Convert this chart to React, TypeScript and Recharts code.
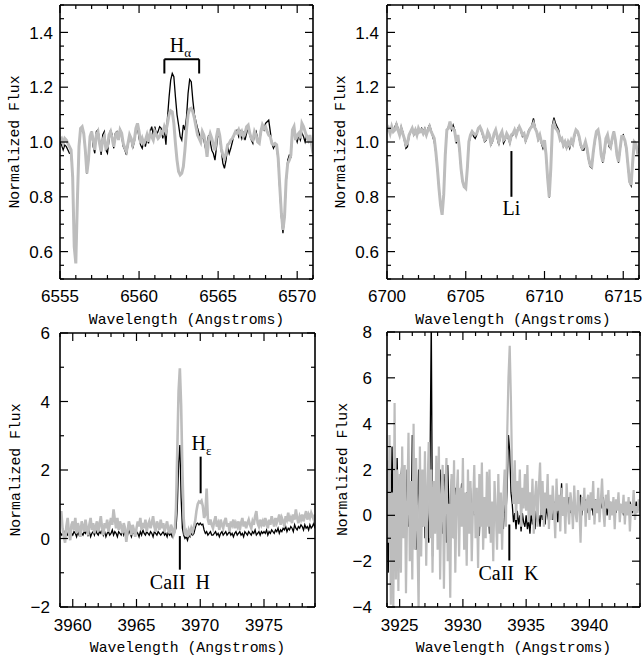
import React from 'react';
import { LineChart, Line, XAxis, YAxis, ReferenceLine, ReferenceDot } from 'recharts';

// every spectrum is sampled on a 0.1 Angstrom grid from its start wavelength
const SAMPLE_STEP = 0.1;

// ---- H-alpha window ----
const haStart = 6555.0;
const haBlack = [
  1.001, 0.989, 0.971, 0.989, 0.983, 0.971, 0.959, 0.959, 0.87, 0.62,
  0.56, 0.79, 0.98, 1.045, 1.044, 1.03, 0.97, 0.885, 0.935, 1.015,
  1.038, 0.983, 0.959, 1.038, 1.044, 1.007, 0.953, 1.026, 1.038, 0.971,
  0.959, 1.007, 1.044, 1.026, 0.977, 1.032, 1.038, 1.013, 1.05, 1.02,
  0.983, 0.971, 0.953, 0.989, 1.02, 1.007, 0.977, 1.001, 1.038, 1.056,
  1.013, 0.989, 0.977, 1.001, 0.983, 1.013, 0.995, 1.038, 1.056, 1.026,
  1.056, 1.026, 1.038, 1.056, 1.05, 1.013, 1.044, 0.99, 1.09, 1.165,
  1.226, 1.25, 1.238, 1.165, 1.10, 1.062, 1.02, 1.007, 1.062, 1.044,
  1.09, 1.178, 1.228, 1.22, 1.153, 1.10, 1.074, 1.05, 1.03, 1.007,
  1.02, 1.007, 0.977, 0.995, 1.025, 1.0, 0.97, 0.958, 0.934, 0.983,
  1.038, 1.013, 0.97, 0.922, 0.904, 0.934, 0.983, 0.958, 0.977, 1.0,
  1.025, 1.038, 1.044, 1.02, 1.038, 1.013, 1.032, 1.007, 1.032, 1.056,
  1.025, 1.007, 0.995, 1.025, 1.038, 1.013, 0.995, 1.032, 1.056, 1.044,
  1.068, 1.074, 1.08, 1.038, 0.995, 0.977, 0.99, 0.983, 0.934, 0.825,
  0.728, 0.667, 0.728, 0.85, 0.934, 0.952, 0.946, 1.038, 1.05, 1.02,
  1.0, 1.025, 1.007, 1.032, 1.02, 1.0, 1.025, 1.013, 1.02, 0.99, 0.97,
];
const haGray = [
  1.007, 1.013, 0.995, 1.013, 1.007, 0.995, 0.983, 0.971, 0.874, 0.618,
  0.557, 0.788, 0.983, 1.05, 1.056, 1.032, 0.971, 0.886, 0.934, 1.02,
  1.038, 1.007, 0.971, 1.026, 1.038, 0.995, 0.965, 1.007, 1.02, 0.977,
  0.983, 1.026, 1.038, 1.013, 0.983, 1.02, 1.038, 1.007, 1.044, 1.032,
  0.995, 0.977, 0.965, 0.995, 1.026, 1.013, 0.989, 1.007, 1.05, 1.068,
  1.038, 0.995, 1.013, 0.995, 1.007, 1.026, 1.001, 1.032, 1.02, 1.007,
  1.038, 1.026, 1.013, 1.02, 1.038, 1.032, 1.056, 1.04, 1.068, 1.10,
  1.114, 1.11, 1.068, 0.995, 0.934, 0.892, 0.88, 0.886, 0.91, 0.97,
  1.044, 1.10, 1.12, 1.123, 1.11, 1.087, 1.056, 1.025, 1.013, 1.0,
  1.038, 1.025, 0.995, 0.946, 1.007, 1.03, 1.013, 0.99, 0.97, 1.02,
  1.05, 1.025, 0.977, 0.952, 0.94, 0.958, 0.99, 0.995, 1.007, 1.013,
  1.025, 1.038, 1.032, 1.044, 1.025, 1.038, 1.02, 1.032, 1.056, 1.062,
  1.032, 1.013, 1.007, 1.038, 1.025, 1.0, 0.995, 1.038, 1.062, 1.05,
  1.056, 1.038, 1.025, 1.02, 0.995, 0.99, 0.995, 0.99, 0.94, 0.837,
  0.74, 0.679, 0.728, 0.861, 0.922, 0.934, 0.952, 1.044, 1.056, 1.007,
  1.025, 1.032, 1.013, 1.068, 1.056, 1.038, 1.02, 1.007, 1.025, 0.995, 0.958,
];

// ---- Li 6708 window ----
const liStart = 6700.0;
const liBlack = [
  1.044, 1.05, 1.038, 1.056, 1.044, 1.056, 1.068, 1.05, 1.031, 1.056,
  1.038, 1.007, 0.977, 0.983, 1.02, 1.038, 1.05, 1.026, 1.044, 1.02,
  1.044, 1.038, 1.05, 1.038, 1.05, 1.031, 1.05, 1.062, 1.044, 1.02,
  1.001, 0.96, 0.9, 0.83, 0.77, 0.736, 0.81, 0.95, 1.04, 1.056,
  1.068, 1.044, 1.062, 1.044, 0.995, 1.02, 0.97, 0.9, 0.855, 0.835,
  0.833, 0.9, 0.995, 1.02, 1.038, 1.02, 1.013, 1.026, 1.05, 1.056,
  1.038, 1.02, 1.001, 1.007, 1.038, 1.02, 0.989, 1.001, 1.026, 1.044,
  1.013, 0.989, 1.02, 1.038, 0.995, 1.007, 1.026, 1.013, 0.995, 1.02,
  1.026, 1.044, 1.02, 1.05, 1.056, 1.038, 1.02, 1.026, 1.001, 1.02,
  1.044, 1.05, 1.062, 1.086, 1.056, 1.038, 1.007, 1.02, 0.995, 0.977,
  1.001, 0.95, 0.865, 0.798, 0.9, 1.062, 1.089, 1.068, 1.056, 1.044,
  1.007, 1.007, 0.983, 0.995, 0.977, 0.995, 0.977, 1.001, 0.989, 1.02,
  1.038, 1.038, 1.013, 0.983, 0.97, 0.97, 0.995, 0.97, 0.935, 0.91,
  0.905, 0.96, 1.001, 1.038, 1.044, 1.007, 0.95, 0.925, 0.955, 1.007,
  1.02, 0.983, 0.977, 1.007, 1.038, 1.0, 0.95, 0.925, 0.97, 1.02,
  1.026, 1.001, 0.97, 0.91, 0.852, 0.84, 0.925, 0.995, 0.985, 0.96, 0.97,
];
const liGray = [
  1.038, 1.05, 1.031, 1.056, 1.038, 1.044, 1.062, 1.044, 1.026, 1.05,
  1.031, 1.013, 0.989, 0.995, 1.026, 1.038, 1.05, 1.031, 1.044, 1.026,
  1.05, 1.038, 1.044, 1.031, 1.044, 1.026, 1.044, 1.056, 1.038, 1.026,
  1.013, 0.965, 0.904, 0.831, 0.77, 0.734, 0.807, 0.953, 1.044, 1.05,
  1.074, 1.05, 1.05, 1.038, 1.001, 1.026, 0.977, 0.904, 0.856, 0.837,
  0.831, 0.904, 1.001, 1.026, 1.038, 1.031, 1.026, 1.031, 1.05, 1.056,
  1.044, 1.026, 1.007, 1.013, 1.038, 1.026, 0.995, 1.007, 1.031, 1.044,
  1.02, 1.001, 1.026, 1.038, 1.007, 1.013, 1.031, 1.02, 1.001, 1.026,
  1.031, 1.044, 1.026, 1.044, 1.056, 1.044, 1.026, 1.031, 1.007, 1.02,
  1.038, 1.05, 1.056, 1.068, 1.05, 1.038, 1.013, 1.026, 1.001, 0.989,
  1.007, 0.953, 0.867, 0.8, 0.904, 1.05, 1.068, 1.05, 1.044, 1.031,
  1.007, 1.013, 0.989, 1.001, 0.983, 1.001, 0.989, 1.007, 0.995, 1.026,
  1.044, 1.038, 1.02, 0.989, 0.977, 0.983, 1.001, 0.977, 0.94, 0.916,
  0.91, 0.965, 1.007, 1.038, 1.044, 1.013, 0.953, 0.928, 0.965, 1.013,
  1.026, 0.995, 0.983, 1.013, 1.038, 1.007, 0.953, 0.928, 0.977, 1.02,
  1.02, 1.007, 0.977, 0.916, 0.856, 0.843, 0.928, 1.001, 0.995, 0.965, 0.977,
];

// ---- Ca II H window ----
const caHStart = 3959.0;
const caHBlack = [
  0.2, 0.1, 0.15, 0.05, 0.2, 0.15, 0.1, 0.25, 0.05, 0.15,
  0.1, 0.2, 0.15, 0.05, 0.2, 0.1, 0.25, 0.15, 0.1, 0.2,
  0.15, 0.25, 0.1, 0.2, 0.05, 0.15, 0.2, 0.1, 0.25, 0.15,
  0.1, 0.2, 0.15, 0.3, 0.1, 0.2, 0.05, 0.15, 0.2, 0.1,
  0.15, 0.25, 0.1, 0.2, 0.15, 0.05, 0.2, 0.15, 0.1, 0.25,
  0.1, 0.2, 0.15, 0.1, 0.25, 0.15, 0.05, 0.2, 0.15, 0.1,
  0.2, 0.15, 0.05, 0.2, 0.1, 0.25, 0.15, 0.1, 0.2, 0.15,
  0.1, 0.2, 0.15, 0.05, 0.2, 0.15, 0.1, 0.2, 0.15, 0.1,
  0.15, 0.2, 0.1, 0.15, 0.05, 0.2, 0.1, 0.15, 0.05, 0.15,
  0.2, 0.3, 0.9, 2.2, 2.73, 1.2, 0.3, 0.1, 0.0, 0.05,
  -0.05, 0.1, 0.05, 0.15, 0.1, 0.15, 0.3, 0.42, 0.45, 0.4,
  0.45, 0.4, 0.42, 0.25, 0.15, 0.2, 0.1, 0.15, 0.2, 0.1,
  0.1, 0.15, 0.2, 0.1, 0.15, 0.05, 0.15, 0.2, 0.1, 0.15,
  0.2, 0.1, 0.15, 0.2, 0.1, 0.15, 0.05, 0.15, 0.2, 0.1,
  0.15, 0.2, 0.1, 0.15, 0.05, 0.2, 0.15, 0.1, 0.2, 0.15,
  0.1, 0.2, 0.15, 0.25, 0.1, 0.15, 0.2, 0.1, 0.2, 0.15,
  0.2, 0.15, 0.25, 0.1, 0.2, 0.15, 0.25, 0.2, 0.15, 0.25,
  0.2, 0.3, 0.15, 0.25, 0.2, 0.3, 0.25, 0.35, 0.2, 0.3,
  0.25, 0.35, 0.3, 0.2, 0.4, 0.3, 0.25, 0.35, 0.3, 0.4,
  0.35, 0.25, 0.4, 0.3, 0.35, 0.25, 0.4, 0.3, 0.35, 0.45, 0.3,
];
const caHGray = [
  0.55, 0.8, 0.3, 0.05, -0.12, 0.35, 0.6, 0.2, -0.05, 0.4,
  0.5, 0.25, 0.6, 0.15, 0.45, 0.3, 0.05, 0.5, 0.35, 0.2,
  0.55, 0.3, 0.1, 0.4, 0.6, 0.25, 0.45, 0.15, 0.35, 0.5,
  0.2, 0.4, 0.65, 0.3, 0.1, 0.45, 0.3, 0.55, 0.2, 0.4,
  0.6, 0.4, 0.85, 0.55, 0.3, 0.6, 0.25, 0.5, 0.35, 0.15,
  0.45, 0.3, -0.1, 0.2, 0.5, 0.35, 0.1, 0.4, 0.25, 0.05,
  0.3, 0.5, 0.35, 0.6, 0.25, 0.45, 0.3, 0.55, 0.2, 0.4,
  0.5, 0.3, 0.45, 0.65, 0.35, 0.2, 0.5, 0.4, 0.25, 0.55,
  0.3, 0.45, 0.2, 0.35, 0.5, 0.25, 0.15, 0.4, 0.3, 0.1,
  0.2, 0.9, 2.6, 4.3, 4.97, 3.9, 2.0, 0.6, 0.1, 0.2,
  0.05, 0.25, 0.15, 0.3, 0.2, 0.35, 0.5, 0.8, 1.0, 1.08,
  1.05, 1.1, 0.95, 0.6, 0.7, 1.46, 0.55, 0.4, 0.55, 0.4,
  0.3, 0.5, 0.65, 0.35, 0.45, 0.25, 0.55, 0.4, 0.3, 0.5,
  0.6, 0.35, 0.45, 0.2, 0.5, 0.4, 0.55, 0.3, 0.45, 0.35,
  0.5, 0.25, 0.45, 0.6, 0.35, 0.5, 0.3, 0.45, 0.55, 0.4,
  0.3, 0.5, 0.4, 0.65, 0.8, 0.45, 0.35, 0.55, 0.4, 0.5,
  0.35, 0.6, 0.45, 0.3, 0.55, 0.4, 0.65, 0.5, 0.35, 0.6,
  0.45, 0.55, 0.7, 0.4, 0.6, 0.5, 0.35, 0.65, 0.55, 0.75,
  0.5, 0.6, 0.45, 0.7, 0.55, 0.85, 0.6, 0.45, 0.65, 0.55,
  0.7, 0.5, 0.65, 0.8, 0.55, 0.7, 0.6, 0.75, 0.65, 0.55, 0.7,
];

// ---- Ca II K window ----
const caKStart = 3924.0;
const caKBlack = [
  1.0, -2.5, 2.0, -1.0, 3.0, -0.5, 1.5, -2.0, 2.5, 0.0,
  -2.1, 1.5, 2.6, -0.8, 1.0, -1.5, 2.0, -0.5, 1.2, -1.0,
  3.5, -0.8, 1.5, -1.5, 0.5, 2.0, -1.0, 1.0, -0.5, 1.5,
  -1.0, 1.2, 0.0, -1.2, 2.0, 8.6, -1.8, 0.5, 1.0, -0.5,
  1.5, -1.0, 2.0, 0.5, -0.8, 1.8, 1.0, -1.2, 2.2, 0.3,
  -0.5, 1.6, 0.2, -1.0, 1.2, 0.0, 1.0, -0.8, 0.5, 1.4,
  -0.3, 0.8, -1.0, 1.0, 0.2, -0.6, 1.2, -0.4, 0.6, 0.0,
  1.0, -0.5, 0.4, -0.9, 0.8, 0.1, -0.6, 0.7, 0.0, -0.4,
  0.6, -0.8, 0.3, 0.0, -0.7, 0.5, -0.2, 0.2, -0.5, 0.4,
  -0.3, 0.2, -0.6, 0.5, 0.0, 1.2, 3.5, 2.8, 1.0, 0.5,
  -0.3, 0.1, -0.6, 0.2, -0.4, 0.0, -0.7, 0.1, -0.3, -0.5,
  0.0, -0.6, -0.2, -0.8, 0.1, -0.4, -0.1, -0.6, 0.2, -0.3,
  0.0, -0.5, 0.3, -0.2, 0.1, -0.4, 0.4, 0.0, -0.3, 0.5,
  0.1, -0.2, 0.6, 0.0, 0.3, -0.3, 0.5, 0.2, 1.4, 0.0,
  0.4, -0.1, 0.6, 0.2, 0.8, 0.1, 0.5, -0.2, 0.7, 0.3,
  0.1, 0.6, 0.2, 0.9, 0.0, 0.5, 0.3, 0.7, 0.1, 0.4,
  0.6, 0.2, 0.5, 0.0, 0.4, 0.7, 0.3, 0.5, 0.1, 0.6,
  0.3, 0.8, 0.2, 0.5, 0.0, 0.4, 0.6, 0.2, 0.5, 0.3,
  0.4, 0.1, 0.6, 0.3, 0.5, 0.2, 0.4, 0.0, 0.5, 0.3,
  0.5, 0.2, 0.6, 0.4, 0.1, 0.5, 0.3, 0.6, 0.2, 0.4, 0.5,
];
const caKGray = [
  2.4, -1.2, 3.5, -3.9, 1.0, -4.2, 4.9, -2.8, 2.0, -3.3,
  1.8, -2.5, 3.0, -1.0, 2.2, -3.4, 0.5, 3.6, -2.0, 1.5,
  -2.8, 4.0, -1.5, 2.5, -0.8, -4.2, 3.0, -1.8, 2.0, -0.5,
  2.8, -2.2, 1.2, 3.2, -1.0, 2.0, -2.5, 1.5, -0.8, 2.6,
  -1.5, 3.0, -2.8, 0.8, 2.2, -3.2, 1.0, 2.5, -2.0, 0.5,
  -3.6, 1.8, -1.0, 2.4, -2.5, 0.8, 2.0, -1.8, 1.2, -0.5,
  2.5, -1.5, 1.0, -2.2, 2.0, -0.8, 1.5, -2.0, 0.5, 2.2,
  -1.0, 1.2, -2.3, 1.8, -0.5, 2.3, -1.5, 0.8, -1.0, 1.9,
  -0.5, 2.0, -1.2, 0.6, -2.0, 1.5, 0.2, -1.5, 1.8, -0.8,
  1.0, -1.5, 0.8, 2.0, -0.5, 3.5, 6.0, 7.4, 5.0, 1.5,
  0.5, 2.4, -0.2, 1.5, 0.5, 2.0, -0.5, 1.2, 0.3, 1.8,
  0.2, 2.2, -0.3, 1.0, 0.0, 1.6, -0.8, 0.8, 1.5, -0.5,
  1.2, 2.3, 0.0, 1.5, -0.5, 1.0, 0.3, 1.8, -0.6, 0.9,
  -0.2, 1.3, 0.4, -1.0, 1.6, 0.2, 0.9, -0.7, 1.2, 0.0,
  0.8, -0.8, 1.4, 0.3, -0.4, 1.0, 0.5, -0.6, 1.3, 0.1,
  -0.3, 1.1, 0.4, -1.2, 0.8, 0.2, 1.2, -0.5, 0.6, 0.9,
  -0.2, 1.0, 0.3, 1.5, -0.4, 0.7, 0.1, 1.2, -0.3, 0.6,
  1.6, 0.2, -0.5, 0.9, 0.3, 1.1, -0.2, 0.6, 0.0, 0.8,
  -0.6, 0.7, 0.2, 1.0, -0.3, 0.5, 0.1, 0.9, -0.4, 0.6,
  0.0, 0.8, -0.7, 0.5, 0.2, 1.1, -0.2, 0.4, 0.1, 0.7, 0.3,
];

// labelled tick values
const haXLabels = [6555, 6560, 6565, 6570];
const liXLabels = [6700, 6705, 6710, 6715];
const caHXLabels = [3960, 3965, 3970, 3975];
const caKXLabels = [3925, 3930, 3935, 3940];
const fluxLabels = [0.6, 0.8, 1.0, 1.2, 1.4];
const caHYLabels = [-2, 0, 2, 4, 6];
const caKYLabels = [-4, -2, 0, 2, 4, 6, 8];

// line identifications: wavelength, flux at top / bottom of the marker, flux at the text baseline
const haBracket = { from: 6561.6, to: 6563.8, top: 1.302, foot: 1.25, textWl: 6562.62, textFlux: 1.328 };
const liMark = { wl: 6707.9, top: 0.967, bottom: 0.8, text: 0.734 };
const caHMark = { wl: 3968.4, top: 0.07, bottom: -0.91, text: -1.48 };
const hEpsMark = { wl: 3970.03, top: 2.39, bottom: 1.32, textWl: 3970.1, text: 2.58 };
const caKMark = { wl: 3933.67, top: -0.4, bottom: -1.97, textWl: 3933.6, text: -2.82 };

const GRAY = '#bdbdbd';
const TICK_FONT = '"Liberation Sans", Arial, sans-serif';
const TITLE_FONT = '"Liberation Mono", "DejaVu Sans Mono", monospace';
const NOTE_FONT = '"Liberation Serif", "Times New Roman", serif';

const spectrum = (start: number, flux: number[]) =>
  flux.map((f, i) => ({ wl: Math.round((start + i * SAMPLE_STEP) * 100) / 100, flux: f }));

const steps = (from: number, to: number, step: number) => {
  const out: number[] = [];
  for (let v = from; v <= to + step / 2; v += step) out.push(Math.round(v * 1000) / 1000);
  return out;
};

const isIn = (list: number[], v: number) => list.some((m) => Math.abs(m - v) < 1e-6);
const signed = (v: number) => (v < 0 ? `\u2212${Math.abs(v)}` : `${v}`);

type Side = 'bottom' | 'top' | 'left' | 'right';

// IDL style ticks: drawn inward from the frame, labels only on bottom/left majors
const tickMark = (side: Side, majors: number[], fmt?: (v: number) => string, gap = 0) =>
  (props: any) => {
    const { x, y, payload } = props;
    const v = payload.value as number;
    const major = isIn(majors, v);
    const len = major ? 8 : 4;
    let line;
    if (side === 'bottom') line = <line x1={x} y1={y} x2={x} y2={y - len} />;
    else if (side === 'top') line = <line x1={x} y1={y} x2={x} y2={y + len} />;
    else if (side === 'left') line = <line x1={x} y1={y} x2={x + len} y2={y} />;
    else line = <line x1={x} y1={y} x2={x - len} y2={y} />;
    return (
      <g>
        <g stroke="#000" strokeWidth={1.2}>{line}</g>
        {major && fmt && side === 'bottom' && (
          <text x={x} y={y + gap} textAnchor="middle" fontFamily={TICK_FONT} fontSize={17} fill="#000">
            {fmt(v)}
          </text>
        )}
        {major && fmt && side === 'left' && (
          <text x={x - gap} y={y} dy="0.36em" textAnchor="end" fontFamily={TICK_FONT} fontSize={17} fill="#000">
            {fmt(v)}
          </text>
        )}
      </g>
    );
  };

const xTitle = (drop: number) => (props: any) => {
  const vb = props.viewBox || {};
  return (
    <text x={vb.x + vb.width / 2} y={vb.y + drop} textAnchor="middle" fontFamily={TITLE_FONT} fontSize={14.8} fill="#000">
      Wavelength (Angstroms)
    </text>
  );
};

const yTitle = (shift: number) => (props: any) => {
  const vb = props.viewBox || {};
  const cx = vb.x + vb.width - shift;
  const cy = vb.y + vb.height / 2;
  return (
    <text x={cx} y={cy} transform={`rotate(-90 ${cx} ${cy})`} textAnchor="middle" dominantBaseline="central"
      fontFamily={TITLE_FONT} fontSize={14.8} fill="#000">
      Normalized Flux
    </text>
  );
};

const note = (main: string, sub?: string) => (props: any) => {
  const vb = props.viewBox || {};
  return (
    <text x={vb.x} y={vb.y} textAnchor="middle" fontFamily={NOTE_FONT} fontSize={20} fill="#000" style={{ whiteSpace: 'pre' }}>
      {main}
      {sub && <tspan fontSize={13} dy={5}>{sub}</tspan>}
    </text>
  );
};

interface PanelProps {
  left: number;
  top: number;
  height: number;
  margin: { top: number; right: number; bottom: number; left: number };
  xDomain: [number, number];
  yDomain: [number, number];
  xLabels: number[];
  yLabels: number[];
  yMinorStep: number;
  yFormat: (v: number) => string;
  yGap: number;
  xGap: number;
  titleShift: number;
  black: { wl: number; flux: number }[];
  gray: { wl: number; flux: number }[];
  grayWidth: number;
  children?: React.ReactNode;
}

// the four axes are 1px thick (a zero sized axis is not drawn), so margins are one less than the frame offset
function Panel(p: PanelProps) {
  const xTicks = steps(p.xDomain[0], p.xDomain[1], 1);
  const yTicks = steps(p.yDomain[0], p.yDomain[1], p.yMinorStep);
  const frame = { stroke: '#000', strokeWidth: 1.6 };
  const m = { top: p.margin.top - 1, right: p.margin.right - 1, bottom: p.margin.bottom - 1, left: p.margin.left - 1 };
  return (
    <div style={{ position: 'absolute', left: p.left, top: p.top }}>
      <LineChart width={322} height={p.height} margin={m}>
        <XAxis type="number" dataKey="wl" domain={p.xDomain} ticks={xTicks} interval={0} allowDataOverflow
          height={1} tickSize={0} tickMargin={0} tickLine={false} axisLine={frame}
          tick={tickMark('bottom', p.xLabels, (v) => `${v}`, p.xGap)} label={xTitle(45)} />
        <XAxis xAxisId="top" orientation="top" type="number" dataKey="wl" domain={p.xDomain} ticks={xTicks}
          interval={0} allowDataOverflow height={1} tickSize={0} tickMargin={0} tickLine={false} axisLine={frame}
          tick={tickMark('top', p.xLabels)} />
        <YAxis type="number" domain={p.yDomain} ticks={yTicks} interval={0} allowDataOverflow width={1}
          tickSize={0} tickMargin={0} tickLine={false} axisLine={frame}
          tick={tickMark('left', p.yLabels, p.yFormat, p.yGap)} label={yTitle(p.titleShift)} />
        <YAxis yAxisId="right" orientation="right" type="number" domain={p.yDomain} ticks={yTicks} interval={0}
          allowDataOverflow width={1} tickSize={0} tickMargin={0} tickLine={false} axisLine={frame}
          tick={tickMark('right', p.yLabels)} />
        <Line data={p.black} dataKey="flux" type="linear" stroke="#000" strokeWidth={1.3} dot={false}
          activeDot={false} isAnimationActive={false} />
        <Line data={p.gray} dataKey="flux" type="linear" stroke={GRAY} strokeWidth={p.grayWidth} dot={false}
          activeDot={false} isAnimationActive={false} />
        {p.children}
      </LineChart>
    </div>
  );
}

const mark = { stroke: '#000', strokeWidth: 2 };

export default function App() {
  return (
    <div style={{ position: 'absolute', left: 0, top: 0, width: 644, height: 655, background: '#fff' }}>
      <Panel left={0} top={0} height={328} margin={{ top: 5, right: 9, bottom: 49, left: 60 }}
        xDomain={[6555, 6571]} yDomain={[0.5, 1.5]} xLabels={haXLabels} yLabels={fluxLabels} yMinorStep={0.05}
        yFormat={(v) => v.toFixed(1)} yGap={7} xGap={23} titleShift={45}
        black={spectrum(haStart, haBlack)} gray={spectrum(haStart, haGray)} grayWidth={3}>
        <ReferenceLine segment={[{ x: haBracket.from, y: haBracket.top }, { x: haBracket.to, y: haBracket.top }]} {...mark} />
        <ReferenceLine segment={[{ x: haBracket.from, y: haBracket.top }, { x: haBracket.from, y: haBracket.foot }]} {...mark} />
        <ReferenceLine segment={[{ x: haBracket.to, y: haBracket.top }, { x: haBracket.to, y: haBracket.foot }]} {...mark} />
        <ReferenceDot x={haBracket.textWl} y={haBracket.textFlux} r={0} stroke="none" fill="none" label={note('H', '\u03b1')} />
      </Panel>
      <Panel left={322} top={0} height={328} margin={{ top: 5, right: 5, bottom: 49, left: 65 }}
        xDomain={[6700, 6716]} yDomain={[0.5, 1.5]} xLabels={liXLabels} yLabels={fluxLabels} yMinorStep={0.05}
        yFormat={(v) => v.toFixed(1)} yGap={8} xGap={23} titleShift={46}
        black={spectrum(liStart, liBlack)} gray={spectrum(liStart, liGray)} grayWidth={3}>
        <ReferenceLine segment={[{ x: liMark.wl, y: liMark.top }, { x: liMark.wl, y: liMark.bottom }]} {...mark} />
        <ReferenceDot x={liMark.wl} y={liMark.text} r={0} stroke="none" fill="none" label={note('Li')} />
      </Panel>
      <Panel left={0} top={312} height={343} margin={{ top: 21, right: 7, bottom: 48, left: 60 }}
        xDomain={[3959, 3979]} yDomain={[-2, 6]} xLabels={caHXLabels} yLabels={caHYLabels} yMinorStep={1}
        yFormat={signed} yGap={10} xGap={24} titleShift={44}
        black={spectrum(caHStart, caHBlack)} gray={spectrum(caHStart, caHGray)} grayWidth={2.6}>
        <ReferenceLine segment={[{ x: caHMark.wl, y: caHMark.top }, { x: caHMark.wl, y: caHMark.bottom }]} {...mark} />
        <ReferenceDot x={caHMark.wl} y={caHMark.text} r={0} stroke="none" fill="none" label={note('CaII  H')} />
        <ReferenceLine segment={[{ x: hEpsMark.wl, y: hEpsMark.top }, { x: hEpsMark.wl, y: hEpsMark.bottom }]} {...mark} />
        <ReferenceDot x={hEpsMark.textWl} y={hEpsMark.text} r={0} stroke="none" fill="none" label={note('H', '\u03b5')} />
      </Panel>
      <Panel left={322} top={312} height={343} margin={{ top: 20, right: 4, bottom: 48, left: 65 }}
        xDomain={[3924, 3944]} yDomain={[-4, 8]} xLabels={caKXLabels} yLabels={caKYLabels} yMinorStep={1}
        yFormat={signed} yGap={15} xGap={24} titleShift={44}
        black={spectrum(caKStart, caKBlack)} gray={spectrum(caKStart, caKGray)} grayWidth={2.2}>
        <ReferenceLine segment={[{ x: caKMark.wl, y: caKMark.top }, { x: caKMark.wl, y: caKMark.bottom }]} {...mark} />
        <ReferenceDot x={caKMark.textWl} y={caKMark.text} r={0} stroke="none" fill="none" label={note('CaII  K')} />
      </Panel>
    </div>
  );
}
